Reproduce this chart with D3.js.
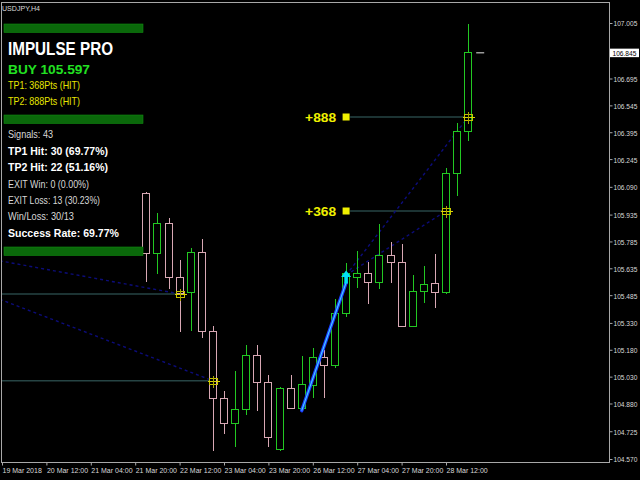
<!DOCTYPE html>
<html><head><meta charset="utf-8">
<script src="https://cdn.jsdelivr.net/npm/d3@7/dist/d3.min.js"></script>
<style>html,body{margin:0;padding:0;background:#000;overflow:hidden}svg{display:block}</style>
</head><body><svg id="c" width="640" height="480"></svg>
<script>
// ---------------- DATA ----------------
const symbolLabel = "USDJPY,H4";
const barIndex = [13,14,15,16,17,18,19,20,21,22,23,24,25,26,27,28,29,30,31,32,33,34,35,36,37,38,39,40,41,42];
const opens  = [106.054,105.719,105.890,105.585,105.501,105.724,105.287,104.909,104.769,104.851,105.149,105.002,104.624,104.967,104.855,104.985,105.138,105.093,105.387,105.588,105.607,105.557,105.708,105.669,105.313,105.507,105.555,105.504,106.169,106.402];
const highs  = [106.063,105.946,105.914,105.681,105.747,105.799,105.313,104.951,105.061,105.205,105.205,105.039,104.974,105.039,105.145,105.188,105.179,105.462,105.663,105.733,105.670,105.881,105.780,105.769,105.598,105.650,105.715,106.197,106.445,106.999];
const lows   = [105.560,105.603,105.519,105.281,105.285,105.244,104.616,104.710,104.639,104.817,104.840,104.639,104.613,104.848,104.844,104.909,104.909,105.077,105.365,105.523,105.434,105.521,105.551,105.310,105.306,105.440,105.412,105.490,106.040,106.346];
const closes = [105.722,105.886,105.585,105.499,105.728,105.287,104.909,104.773,104.851,105.149,105.002,104.691,104.965,104.855,104.989,105.138,105.093,105.384,105.607,105.607,105.557,105.708,105.669,105.313,105.507,105.550,105.501,106.169,106.402,106.845];

const xTickIdx    = [0,4,8,12,16,20,24,28,32,36,40];
const xTickLabels = ["19 Mar 2018","20 Mar 12:00","21 Mar 04:00","21 Mar 20:00","22 Mar 12:00","23 Mar 04:00","23 Mar 20:00","26 Mar 12:00","27 Mar 04:00","27 Mar 20:00","28 Mar 12:00"];
const yTickLabels = ["107.005","106.695","106.545","106.395","106.245","106.090","105.935","105.785","105.635","105.485","105.330","105.180","105.030","104.880","104.725","104.570"];
const currentPrice = 106.845;

// current signal
const signalBar = 31, entryPrice = 105.597, tp1Pts = 368, tp2Pts = 888;
const tpLevels = [105.955, 106.480];      // TP1, TP2 lines as drawn
const tpHitBars = [40, 42];
const tpLabels = ["+368", "+888"];
const trendFromBar = 27, trendFromPrice = 104.840, trendToPrice = 105.555;

// earlier signals (start off-screen on the left)
const prevStartBar   = [-0.2, -0.2];
const prevStartPrice = [105.677, 105.462];
const prevHitBar     = [16, 19];
const prevTP         = [105.492, 105.007];

// statistics
const signals = 43, tp1Hits = 30, tp2Hits = 22, exitWins = 0, exitLosses = 13;

// ---------------- DRAW ----------------
const svg = d3.select("#c");
svg.append("rect").attr("width",640).attr("height",480).attr("fill","#000");
const FONT = "'Liberation Sans', Arial, sans-serif";

const x = d3.scaleLinear().domain([0, 40]).range([2, 446]);
const y = d3.scaleLinear().domain([104.570, 107.005]).range([459, 23]);

const L = 1.5, R = 609.5, T = 2.5, B = 462.5;
svg.append("defs").append("clipPath").attr("id","plot")
  .append("rect").attr("x",L).attr("y",T).attr("width",R-L).attr("height",B-T);
const plot = svg.append("g").attr("clip-path","url(#plot)");

// frame
svg.append("path").attr("d",`M${L},${B}V${T}H${R}V${B}H${L}`)
  .attr("fill","none").attr("stroke","#a8a8a8").attr("stroke-width",1).attr("shape-rendering","crispEdges");

const tpLineCol = "#264444", dotCol = "#0c0c7a";

// previous signals: horizontal TP lines + dotted lines
prevHitBar.forEach((hb,i)=>{
  plot.append("line").attr("x1",x(prevStartBar[i])).attr("x2",x(hb)+4)
    .attr("y1",y(prevTP[i])).attr("y2",y(prevTP[i]))
    .attr("stroke",tpLineCol).attr("stroke-width",1.5);
  plot.append("line").attr("x1",x(prevStartBar[i])).attr("y1",y(prevStartPrice[i]))
    .attr("x2",x(hb)).attr("y2",y(prevTP[i]))
    .attr("stroke",dotCol).attr("stroke-width",1.4).attr("stroke-dasharray","3,3");
});

// current signal TP lines and dotted lines
tpLevels.forEach((tp,i)=>{
  plot.append("line").attr("x1",x(signalBar)+4).attr("x2",x(tpHitBars[i])+4)
    .attr("y1",y(tp)).attr("y2",y(tp))
    .attr("stroke",tpLineCol).attr("stroke-width",1.5);
  plot.append("line").attr("x1",x(signalBar)).attr("y1",y(entryPrice))
    .attr("x2",x(tpHitBars[i])).attr("y2",y(tp))
    .attr("stroke",dotCol).attr("stroke-width",1.4).attr("stroke-dasharray","3,3");
});

// candles
const bull = "#22c822", bear = "#d8a8b4";
const cg = plot.append("g").attr("shape-rendering","crispEdges");
barIndex.forEach((b,i)=>{
  const o=opens[i], c=closes[i], h=highs[i], l=lows[i];
  const col = c >= o ? bull : bear;
  const cx = Math.round(x(b)) + 0.5;
  const top = Math.round(y(Math.max(o,c))) + 0.5;
  const bot = Math.round(y(Math.min(o,c))) + 0.5;
  cg.append("line").attr("x1",cx).attr("x2",cx).attr("y1",y(h)).attr("y2",top).attr("stroke",col);
  cg.append("line").attr("x1",cx).attr("x2",cx).attr("y1",bot).attr("y2",y(l)).attr("stroke",col);
  cg.append("rect").attr("x",cx-4).attr("y",top).attr("width",7).attr("height",Math.max(1,bot-top))
    .attr("fill","#000").attr("stroke",col);
});

// trend line (blue) to signal
plot.append("line").attr("x1",x(trendFromBar)).attr("y1",y(trendFromPrice))
  .attr("x2",x(signalBar)).attr("y2",y(trendToPrice))
  .attr("stroke","#1a3cff").attr("stroke-width",3.4).attr("stroke-linecap","round");
plot.append("line").attr("x1",x(trendFromBar)).attr("y1",y(trendFromPrice))
  .attr("x2",x(signalBar)).attr("y2",y(trendToPrice))
  .attr("stroke","#48d8ff").attr("stroke-width",1.1);

// buy arrow
{
  const cx = x(signalBar), ty = y(entryPrice) - 4.5;
  plot.append("path")
    .attr("d",`M${cx},${ty}L${cx+5},${ty+6.5}L${cx+1.8},${ty+6.5}L${cx+1.8},${ty+13}L${cx-1.8},${ty+13}L${cx-1.8},${ty+6.5}L${cx-5},${ty+6.5}Z`)
    .attr("fill","#00e0f4");
}

// hit markers
function hitMarker(px, py){
  const g = plot.append("g").attr("shape-rendering","crispEdges");
  const cx = Math.round(px)+0.5, cy = Math.round(py)+0.5;
  g.append("rect").attr("x",cx-4).attr("y",cy-3).attr("width",8).attr("height",6)
    .attr("fill","none").attr("stroke","#c8c400");
  g.append("line").attr("x1",cx-6).attr("x2",cx+6).attr("y1",cy).attr("y2",cy).attr("stroke","#d8d400");
  g.append("line").attr("x1",cx).attr("x2",cx).attr("y1",cy-6).attr("y2",cy+6).attr("stroke","#a8a400");
}
prevHitBar.forEach((hb,i)=>hitMarker(x(hb), y(prevTP[i])));
tpHitBars.forEach((hb,i)=>hitMarker(x(hb), y(tpLevels[i])));

// TP squares and labels
tpLevels.forEach((tp,i)=>{
  plot.append("rect").attr("x",x(signalBar)-3.5).attr("y",y(tp)-3.5).attr("width",7).attr("height",7)
    .attr("fill","#f0f000");
  plot.append("text").attr("x",x(signalBar)-41).attr("y",y(tp)+5)
    .attr("textLength",31).attr("lengthAdjust","spacingAndGlyphs")
    .attr("font-family",FONT).attr("font-weight","bold").attr("font-size",13.5)
    .attr("fill","#f0f000").text(tpLabels[i]);
});

// current price marker dash
plot.append("line").attr("x1",x(42)+8).attr("x2",x(42)+16)
  .attr("y1",y(currentPrice)+1).attr("y2",y(currentPrice)+1)
  .attr("stroke","#9a9a9a").attr("stroke-width",1.5);

// x axis
const xAxis = svg.append("g").attr("transform",`translate(0,${B})`)
  .call(d3.axisBottom(x).tickValues(xTickIdx).tickFormat((d,i)=>xTickLabels[i]).tickSize(3));
xAxis.select(".domain").remove();
xAxis.selectAll("line").attr("stroke","#a8a8a8");
xAxis.selectAll("text").attr("text-anchor","start").attr("x",0).attr("y",5.5)
  .attr("fill","#d8d8d8").attr("font-family",FONT).attr("font-size",7);

// y axis
const yAxis = svg.append("g").attr("transform",`translate(${R},0)`)
  .call(d3.axisRight(y).tickValues(yTickLabels.map(Number)).tickFormat((d,i)=>yTickLabels[i]).tickSize(3));
yAxis.select(".domain").remove();
yAxis.selectAll("line").attr("stroke","#a8a8a8");
yAxis.selectAll("text").attr("x",4).attr("dy","0.45em")
  .attr("fill","#d8d8d8").attr("font-family",FONT).attr("font-size",6.6);

// current price box
svg.append("rect").attr("x",R+0.5).attr("y",y(currentPrice)-3).attr("width",29).attr("height",8.5).attr("fill","#fff");
svg.append("text").attr("x",R+3).attr("y",y(currentPrice)+4).attr("fill","#000")
  .attr("font-family",FONT).attr("font-size",6.6).text(currentPrice.toFixed(3));

// ---------------- PANEL ----------------
const pct = v => (v/signals*100).toFixed(2) + "%";
const panel = svg.append("g");
svg.append("text").attr("x",2).attr("y",11).attr("fill","#d8d8d8").attr("font-family",FONT)
  .attr("font-size",7).attr("textLength",38).attr("lengthAdjust","spacingAndGlyphs").text(symbolLabel);

[24,115,247].forEach(yy=>{
  panel.append("rect").attr("x",4).attr("y",yy).attr("width",139).attr("height",8.5)
    .attr("fill","#0a680a").attr("stroke","#108a10").attr("stroke-width",0.6);
});

function ptext(str, yy, size, bold, color, w){
  panel.append("text").attr("x",8).attr("y",yy).attr("font-family",FONT)
    .attr("font-size",size).attr("font-weight",bold?"bold":"normal").attr("fill",color)
    .attr("textLength",w).attr("lengthAdjust","spacingAndGlyphs").text(str);
}
ptext("IMPULSE PRO", 55, 18.5, true, "#ffffff", 105);
ptext("BUY " + entryPrice.toFixed(3), 74, 13, true, "#22e022", 82);
ptext(`TP1: ${tp1Pts}Pts (HIT)`, 89, 10.5, false, "#e6e600", 72);
ptext(`TP2: ${tp2Pts}Pts (HIT)`, 104.5, 10.5, false, "#e6e600", 72);
ptext(`Signals: ${signals}`, 137.5, 10.5, false, "#d8d8d8", 45);
ptext(`TP1 Hit: ${tp1Hits} (${pct(tp1Hits)})`, 154.5, 11, true, "#ffffff", 100);
ptext(`TP2 Hit: ${tp2Hits} (${pct(tp2Hits)})`, 171, 11, true, "#ffffff", 100);
ptext(`EXIT Win: ${exitWins} (${pct(exitWins)})`, 187.5, 10.5, false, "#d8d8d8", 81);
ptext(`EXIT Loss: ${exitLosses} (${pct(exitLosses)})`, 203.5, 10.5, false, "#d8d8d8", 92);
ptext(`Win/Loss: ${tp1Hits}/${exitLosses}`, 219.5, 10.5, false, "#d8d8d8", 66);
ptext(`Success Rate: ${pct(tp1Hits)}`, 236.5, 11, true, "#ffffff", 111);
</script></body></html>
